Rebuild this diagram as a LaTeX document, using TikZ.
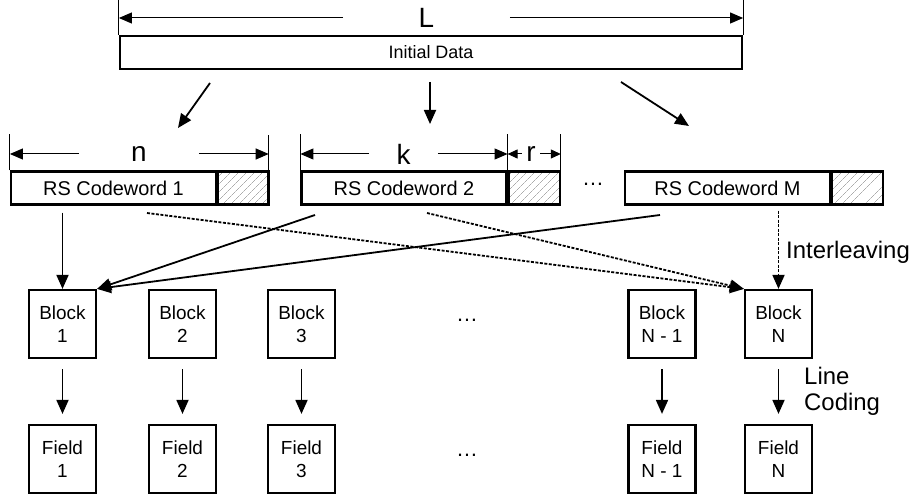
\documentclass[tikz,border=0pt]{standalone}
\usepackage{fontspec}
\setmainfont{Liberation Sans}
\usetikzlibrary{arrows.meta,patterns.meta,positioning,calc}
\tikzset{
  every picture/.style={line width=1.8bp},
  sdata/.style={draw, line width=2.2bp, inner sep=0pt, minimum height=33bp},
  sparity/.style={sdata, minimum width=51bp,
                  pattern={Lines[angle=45, distance=6bp, line width=0.6bp]},
                  pattern color=gray},
  sunit/.style={draw, line width=2.2bp, minimum width=67bp, minimum height=68bp,
                inner sep=0pt, align=center, font=\fontsize{19}{23}\selectfont},
  sarrow/.style={-{Triangle[length=14bp, width=12bp]}},
  sdotted/.style={sarrow, dash pattern=on 3bp off 1.5bp},
  sdim/.style={line width=1bp, -{Triangle[length=13bp, width=11bp]}},
  sdimsmall/.style={line width=1bp, -{Triangle[length=10bp, width=9bp]}},
  stick/.style={line width=0.8bp},
  sdimlabel/.style={inner sep=0pt, font=\fontsize{28}{28}\selectfont},
  snote/.style={font=\fontsize{24}{26}\selectfont, align=left, anchor=west},
  sdots/.style={font=\fontsize{22}{22}\selectfont},
}

\begin{document}
\begin{tikzpicture}[x=1bp, y=-1bp]
\useasboundingbox (0,0) rectangle (910,499);

% initial data and its length L
\node[sdata, minimum width=622bp, font=\fontsize{18}{18}\selectfont] (init) at (431,52.5) {Initial Data};
\draw[stick] (init.north west) -- ++(0,-36);
\draw[stick] (init.north east) -- ++(0,-36);
\node[sdimlabel, minimum width=165bp] (L) at (426.5,18) {L};
\draw[sdim] (L.west) -- (init.west |- L);
\draw[sdim] (L.east) -- (init.east |- L);

% splitting into codewords
\coordinate (sa) at (210,83);  \coordinate (ea) at (178,128);
\coordinate (sb) at (430,82);  \coordinate (eb) at (430,124);
\coordinate (sc) at (621,82);  \coordinate (ec) at (689,126);
\draw[sarrow] (sa) -- (ea);
\draw[sarrow] (sb) -- (eb);
\draw[sarrow] (sc) -- (ec);

% RS codewords with parity part
\foreach \i/\x/\t in {1/113.5/RS Codeword 1, 2/404/RS Codeword 2, M/727.5/RS Codeword M} {
  \node[sdata, minimum width=205bp, font=\fontsize{20}{20}\selectfont] (cw\i) at (\x,188) {\t};
  \node[sparity, right=0pt of cw\i] (par\i) {};
}
\node[sdots] (cwdots) at (593,184) {\dots};

% n, k, r
\foreach \a in {cw1.north west, par1.north east, cw2.north west, par2.north west, par2.north east}
  \draw[stick] (\a) -- ++(0,-36);
\node[sdimlabel, minimum width=118bp] (n) at (139,154) {n};
\draw[sdim] (n.west) -- (cw1.west |- n);
\draw[sdim] (n.east) -- (par1.east |- n);
\node[sdimlabel, minimum width=67bp] (k) at (403.5,154) {k};
\draw[sdim] (k.west) -- (cw2.west |- k);
\draw[sdim] (k.east) -- (cw2.east |- k);
\node[sdimlabel, minimum width=17bp] (r) at (531,154) {r};
\draw[sdimsmall] (r.west) -- (par2.west |- r);
\draw[sdimsmall] (r.east) -- (par2.east |- r);

% blocks and fields
\foreach \i/\x/\t in {1/62.5/1, 2/182.5/2, 3/301.5/3, N1/662/N - 1, N/778.5/N} {
  \node[sunit] (blk\i) at (\x,324) {Block\\\t};
  \node[sunit] (fld\i) at (\x,459) {Field\\\t};
  \draw[sarrow, shorten <=10bp, shorten >=10bp] (blk\i) -- (fld\i);
}
\node[sdots] (blkdots) at (467,320) {\dots};
\node[sdots] (flddots) at (467,455) {\dots};

% interleaving
\coordinate (ia) at (315,215);
\coordinate (ib) at (660,215);
\coordinate (ic) at (147,213);
\coordinate (id) at (427,213);
\draw[sarrow, shorten <=7bp] (cw1.south -| blk1) -- (blk1.north);
\draw[sarrow] (ia) -- (blk1.north east);
\draw[sarrow] (ib) -- (blk1.north east);
\draw[sdotted] (ic) -- (blkN.north west);
\draw[sdotted] (id) -- (blkN.north west);
\draw[sdotted, shorten <=5bp] (cwM.south -| blkN) -- (blkN.north);
\node[snote] (ilv) at (782,252) {Interleaving};
\node[snote] (lc) at (800,391) {Line\\Coding};
\end{tikzpicture}
\end{document}
